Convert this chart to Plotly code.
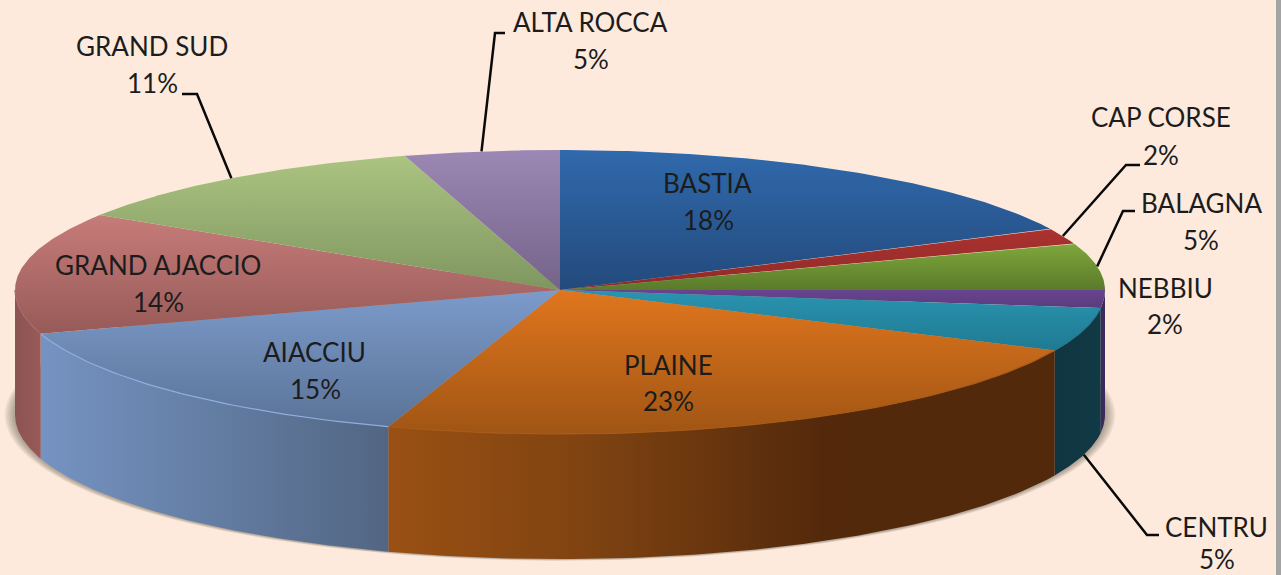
import numpy as np
import plotly.graph_objects as go

# ---- data ----
regions = ["BASTIA", "CAP CORSE", "BALAGNA", "NEBBIU", "CENTRU", "PLAINE",
           "AIACCIU", "GRAND AJACCIO", "GRAND SUD", "ALTA ROCCA"]
shares = [17.8, 1.8, 5.4, 2.0, 4.9, 23.2, 15.0, 13.9, 11.4, 4.6]

# ---- styles ----
top_light = ["#3069ac", "#ab322f", "#7fa83c", "#68458f", "#2a94b0",
             "#e0761e", "#7c9bcb", "#c67c79", "#abc481", "#9c88b4"]
top_dark = ["#234a7c", "#8f2a28", "#5a7a2a", "#5a3c7d", "#1f7a92",
            "#a05514", "#5a7397", "#975a58", "#7f9660", "#746389"]
wall_stops = {
    3: [[0, "#3c2a5c"], [1, "#3c2a5c"]],
    4: [[0, "#0f3540"], [1, "#113a46"]],
    5: [[0, "#9a5013"], [0.3, "#7f4311"], [0.65, "#54290b"], [1, "#52290b"]],
    6: [[0, "#7593c2"], [1, "#526683"]],
    7: [[0, "#8a5452"], [1, "#985a58"]],
}
rim = {5: "#a85a16", 6: "#8fadde", 7: "#a96866", 4: "#24788f"}

# label centres (name line, percent line) in picture units
name_pos = [(707, 183), (1161, 117), (1201, 203), (1165, 288), (1216, 527),
            (668, 365), (314, 352), (158, 265), (152, 46), (590, 22)]
pct_pos = [(708, 220), (1161, 155), (1201, 240), (1165, 324), (1217, 559),
           (668, 401), (315, 389), (158, 302), (152, 83), (591, 59)]
# leader elbows per region index
leaders = {1: [(1126, 165), (1140, 165)], 2: [(1123, 211), (1135, 211)],
           4: [(1147, 535), (1159, 535)], 8: [(197, 94), (182, 94)],
           9: [(495, 33), (505, 33)]}

BG = "#fdeadc"
CX, CY, RX, RY_BACK, RY_FRONT, DEPTH = 560, 290, 545, 140, 144, 125


def ell(theta, dy=0.0):
    c = np.cos(theta)
    return CX + RX * np.sin(theta), CY - np.where(c >= 0, RY_BACK, RY_FRONT) * c + dy


fig = go.Figure()


def add_poly(x, y, **kw):
    fig.add_trace(go.Scatter(x=list(x), y=list(y), mode="lines", fill="toself",
                             line=dict(width=0), hoverinfo="skip",
                             showlegend=False, **kw))


# soft shadow under the pie
t = np.linspace(0, 2 * np.pi, 240)
for k in range(6, 0, -1):
    add_poly(CX + (RX + k * 1.7) * np.sin(t), CY + DEPTH + (RY_FRONT + k * 0.3) * np.cos(t),
             fillcolor="rgba(70,60,50,0.08)")

cum = np.concatenate([[0], np.cumsum(shares)]) / sum(shares) * 2 * np.pi
lo, hi = np.pi / 2, 3 * np.pi / 2

# walls
for i in range(len(shares)):
    a, b = max(cum[i], lo), min(cum[i + 1], hi)
    if a >= b:
        continue
    th = np.linspace(a, b, 90)
    x0, y0 = ell(th)
    x1, y1 = ell(th, DEPTH)
    xs = np.concatenate([x0, x1[::-1]])
    ys = np.concatenate([y0, y1[::-1]])
    add_poly(xs, ys, fillgradient=dict(type="horizontal", colorscale=wall_stops[i],
                                       start=float(xs.min()), stop=float(xs.max())))

# top faces
for i in range(len(shares)):
    th = np.linspace(cum[i], cum[i + 1], 90)
    x0, y0 = ell(th)
    xs = np.concatenate([[CX], x0, [CX]])
    ys = np.concatenate([[CY], y0, [CY]])
    add_poly(xs, ys, fillgradient=dict(type="vertical",
                                       colorscale=[[0, top_light[i]], [1, top_dark[i]]],
                                       start=float(ys.min()), stop=float(ys.max())))

# light rim along the front edge
for i, c in rim.items():
    a, b = max(cum[i], lo), min(cum[i + 1], hi)
    x0, y0 = ell(np.linspace(a, b, 60))
    fig.add_trace(go.Scatter(x=x0, y=y0, mode="lines", line=dict(color=c, width=1.2),
                             hoverinfo="skip", showlegend=False))

# leader lines
for i, pts in leaders.items():
    m = (cum[i] + cum[i + 1]) / 2
    sx, sy = ell(m, DEPTH if np.cos(m) < 0 else 0)
    fig.add_trace(go.Scatter(x=[float(sx)] + [p[0] for p in pts], y=[float(sy)] + [p[1] for p in pts],
                             mode="lines", line=dict(color="#0a0a0a", width=2.5),
                             hoverinfo="skip", showlegend=False))

# right-hand frame edge
fig.add_shape(type="rect", x0=1276, x1=1281, y0=0, y1=575, fillcolor="#a3a3a3", line_width=0)

FONT = dict(family="Lato", size=26, color="#1c1c1c")
for i, r in enumerate(regions):
    fig.add_annotation(x=name_pos[i][0], y=name_pos[i][1], text=r, showarrow=False,
                       font=FONT, xanchor="center", yanchor="middle")
    fig.add_annotation(x=pct_pos[i][0], y=pct_pos[i][1], text=f"{round(shares[i])}%", showarrow=False,
                       font=FONT, xanchor="center", yanchor="middle")

fig.update_layout(width=1281, height=575, margin=dict(l=0, r=0, t=0, b=0),
                  paper_bgcolor=BG, plot_bgcolor=BG, showlegend=False,
                  xaxis=dict(range=[0, 1281], visible=False, fixedrange=True),
                  yaxis=dict(range=[575, 0], visible=False, fixedrange=True))
fig.write_html("out.html", config={"displayModeBar": False},
               post_script="document.body.style.margin='0';")
